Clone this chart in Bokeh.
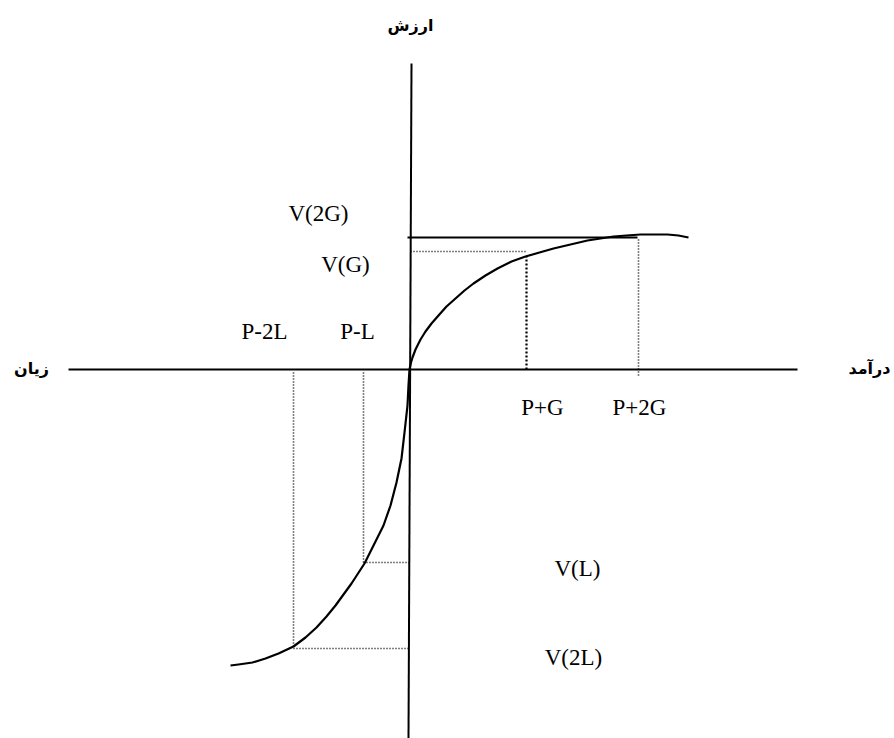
from bokeh.plotting import figure
from bokeh.models import Range1d, ColumnDataSource
from bokeh.core.properties import value
from bokeh.embed import file_html
from bokeh.resources import INLINE

# ---- data (diagram units; origin = reference point P, value 0) ----
gain_x = [0.0, 0.015, 0.03, 0.06, 0.11, 0.16, 0.22, 0.29, 0.37, 0.46, 0.55, 0.64, 0.76, 0.88,
          1.02, 1.16, 1.30, 1.44, 1.61, 1.78, 1.91, 2.04, 2.17, 2.31, 2.45, 2.58, 2.69, 2.79]
gain_v = [0.0, 0.07, 0.12, 0.20, 0.30, 0.38, 0.46, 0.54, 0.63, 0.71, 0.79, 0.86, 0.94, 1.01,
          1.08, 1.13, 1.17, 1.21, 1.25, 1.29, 1.31, 1.33, 1.34, 1.35, 1.35, 1.35, 1.34, 1.32]
loss_x = [0.0, -0.01, -0.02, -0.05, -0.08, -0.13, -0.19, -0.26, -0.36, -0.45, -0.58, -0.66,
          -0.74, -0.83, -0.93, -1.04, -1.16, -1.31, -1.44, -1.57, -1.71, -1.79]
loss_v = [0.0, -0.16, -0.36, -0.63, -0.89, -1.13, -1.36, -1.56, -1.76, -1.94, -2.14, -2.25,
          -2.36, -2.47, -2.58, -2.68, -2.77, -2.84, -2.89, -2.93, -2.95, -2.96]

# outcome points on the horizontal axis
x_pg, x_p2g = 1.17, 2.29
x_pl, x_p2l = -0.46, -1.16
# values on the vertical axis
v_g, v_2g = 1.18, 1.32
v_g_curve = 1.13
v_l, v_2l = -1.93, -2.79

# axes extents
h_axis_x = [-3.41, 3.88]
v_axis_x = [0.02, -0.01]
v_axis_y = [3.06, -3.69]

# labels
lab_text = ["V(2G)", "V(G)", "P-2L", "P-L", "P+G", "P+2G", "V(L)", "V(2L)"]
lab_x = [-0.91, -0.64, -1.45, -0.52, 1.33, 2.30, 1.68, 1.64]
lab_y = [1.56, 1.05, 0.38, 0.38, -0.38, -0.38, -1.99, -2.88]

fa_text = ["ارزش", "زیان", "درآمد"]
fa_x = [0.01, -3.78, 4.60]
fa_y = [3.44, 0.01, 0.01]

p = figure(width=894, height=738, output_backend="svg", toolbar_location=None,
           x_range=Range1d(-4.09, 4.85), y_range=Range1d(-3.69, 3.69),
           min_border=0, background_fill_color="white")
p.axis.visible = False
p.grid.visible = False
p.outline_line_color = None

# axes
p.line(h_axis_x, [0, 0], line_color="black", line_width=2)
p.line(v_axis_x, v_axis_y, line_color="black", line_width=2)

# top solid horizontal line at V(2G)
p.line([-0.02, x_p2g - 0.01], [v_2g, v_2g], line_color="black", line_width=2)

# dotted guides
dot = dict(line_color="black", line_width=1.6, line_dash="1 2")
p.line([0.01, x_pg], [v_g, v_g], **dot)
p.line([x_pg, x_pg], [0, v_g_curve], line_color="black", line_width=2.2, line_dash="2 2")
p.line([x_p2g, x_p2g], [-0.06, v_2g], **dot)
p.line([x_pl, x_pl], [-0.03, v_l], **dot)
p.line([x_pl, 0], [v_l, v_l], **dot)
p.line([x_p2l, x_p2l], [-0.03, v_2l], **dot)
p.line([x_p2l, 0], [v_2l, v_2l], **dot)

# value function
p.line(gain_x, gain_v, line_color="black", line_width=2.2, line_join="round")
p.line(loss_x, loss_v, line_color="black", line_width=2.2, line_join="round")

src = ColumnDataSource(dict(x=lab_x, y=lab_y, t=lab_text))
p.text(x="x", y="y", text="t", source=src, text_align="center", text_baseline="middle",
       text_font=value("Liberation Serif"), text_font_size="23px", text_color="black")

src2 = ColumnDataSource(dict(x=fa_x, y=fa_y, t=fa_text))
p.text(x="x", y="y", text="t", source=src2, text_align="center", text_baseline="middle",
       text_font=value("DejaVu Sans"), text_font_size="16px", text_font_style="bold",
       text_color="black")

open("out.html", "w").write(file_html(p, INLINE))
